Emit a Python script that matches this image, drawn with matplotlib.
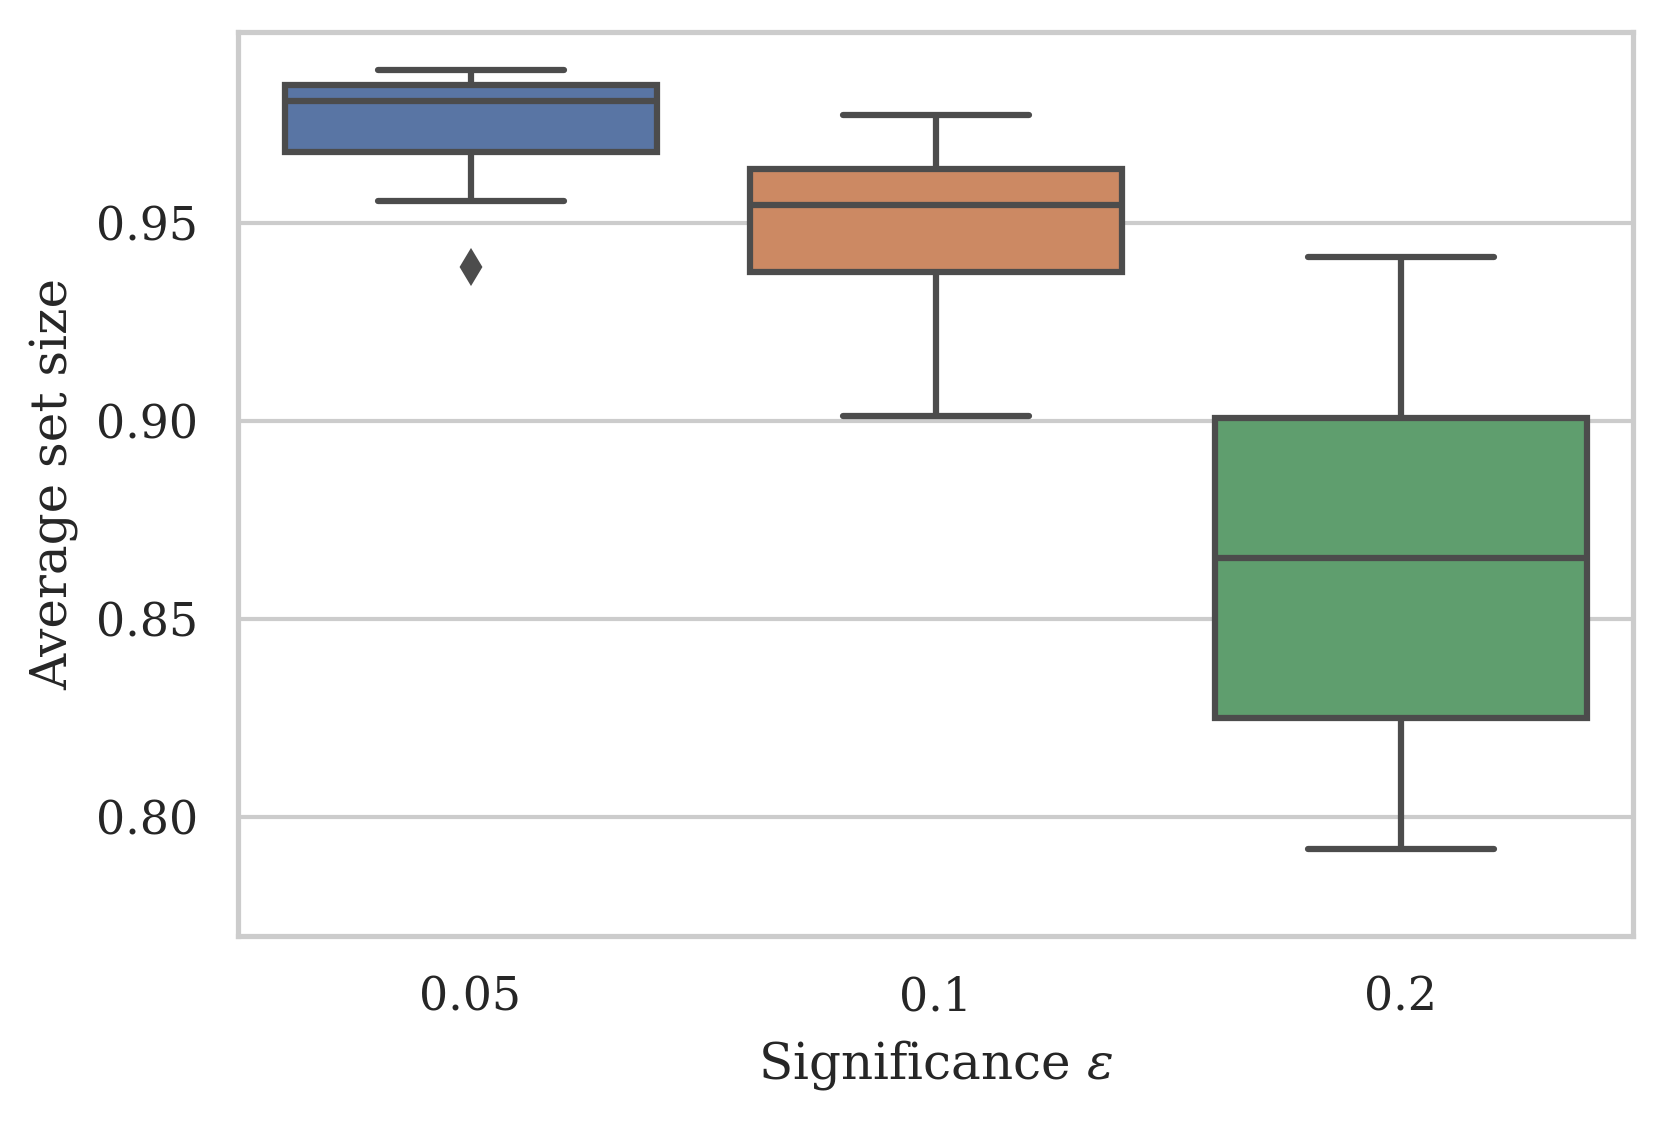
import numpy as np
import matplotlib
matplotlib.use("Agg")
import matplotlib.pyplot as plt
import seaborn as sns

# --- Data (box statistics) ---
categories = ["0.05", "0.1", "0.2"]
whislo = [0.9556, 0.9013, 0.7919]
q1 = [0.9679, 0.9376, 0.8250]
med = [0.9808, 0.9544, 0.8653]
q3 = [0.9848, 0.9635, 0.9007]
whishi = [0.9886, 0.9772, 0.9414]
fliers = [[0.9389], [], []]

sns.set_theme(style="whitegrid", context="notebook")
plt.rcParams["font.family"] = ["DejaVu Serif"]
plt.rcParams["mathtext.fontset"] = "dejavuserif"

colors = sns.color_palette("deep", 3, desat=0.75)
gray = "#4c4c4c"

stats = []
for i, name in enumerate(categories):
    stats.append(dict(label=name, whislo=whislo[i], q1=q1[i], med=med[i],
                      q3=q3[i], whishi=whishi[i], fliers=fliers[i]))

fig, ax = plt.subplots(figsize=(1662 / 300, 1121 / 300), dpi=300)
lw = 1.5
bp = ax.bxp(stats, positions=range(len(categories)), widths=0.8,
            patch_artist=True, showfliers=True,
            boxprops=dict(edgecolor=gray, linewidth=lw),
            whiskerprops=dict(color=gray, linewidth=lw, solid_capstyle="butt"),
            capprops=dict(color=gray, linewidth=lw, solid_capstyle="round"),
            medianprops=dict(color=gray, linewidth=lw, solid_capstyle="butt"),
            flierprops=dict(marker="d", markersize=5, markerfacecolor=gray,
                            markeredgecolor=gray, linestyle="none"))
for patch, c in zip(bp["boxes"], colors):
    patch.set_facecolor(c)

ax.set_xlim(-0.5, len(categories) - 0.5)
ax.set_ylim(0.7699, 0.9982)
ax.set_yticks([0.80, 0.85, 0.90, 0.95])
ax.set_xlabel(r"Significance $\varepsilon$")
ax.set_ylabel("Average set size")
ax.xaxis.grid(False)

fig.subplots_adjust(left=238 / 1662, right=1633 / 1662, top=1 - 32 / 1121, bottom=1 - 936 / 1121)
fig.savefig("out.png", dpi=300)
